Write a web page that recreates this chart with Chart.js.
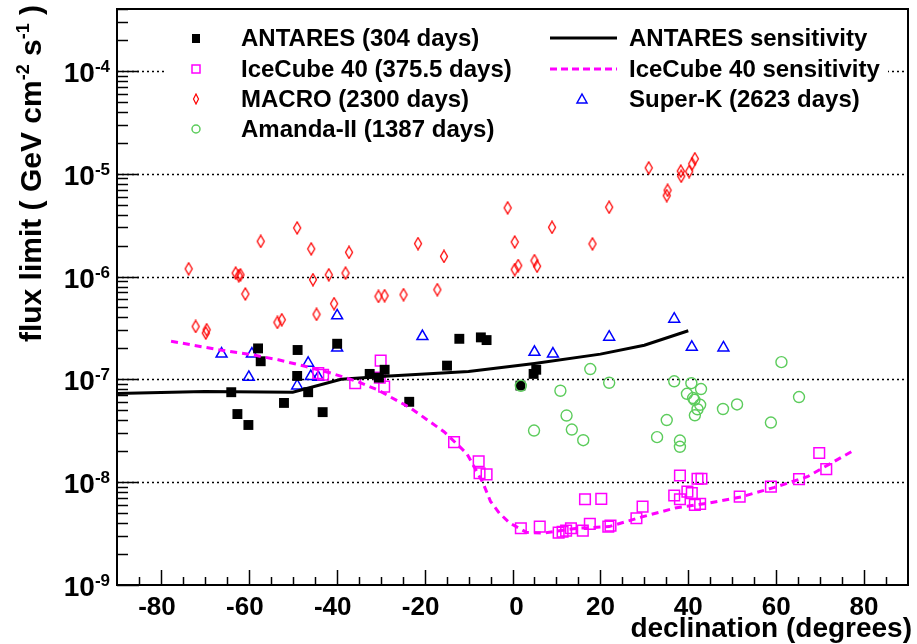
<!DOCTYPE html>
<html>
<head>
<meta charset="utf-8">
<script src="https://cdn.jsdelivr.net/npm/chart.js@4/dist/chart.umd.min.js"></script>
<style>
  html, body { margin: 0; padding: 0; background: #fff; }
</style>
</head>
<body>
<canvas id="c" width="917" height="644"></canvas>
<script>
// ANTARES (304 days) - candidate source limits
const antaresDec = [-64.0, -62.6, -60.1, -57.9, -57.3, -52.0, -48.9, -49.0, -46.5, -43.2, -39.9,
                    -32.5, -30.4, -29.1, -23.5, -14.9, -12.1, -7.2, -5.9, 1.8, 4.8, 5.4];
const antaresFlux = [7.5e-8, 4.6e-8, 3.6e-8, 2.0e-7, 1.5e-7, 5.9e-8, 1.93e-7, 1.08e-7, 7.5e-8, 4.8e-8, 2.22e-7,
                     1.13e-7, 1.04e-7, 1.24e-7, 6.05e-8, 1.36e-7, 2.48e-7, 2.56e-7, 2.41e-7, 8.7e-8, 1.13e-7, 1.24e-7];

// ANTARES sensitivity curve
const antSensDec = [-90, -70, -50, -39, -29, -10, 5, 20, 30, 40];
const antSensFlux = [7.3e-8, 7.6e-8, 7.5e-8, 1.0e-7, 1.07e-7, 1.19e-7, 1.43e-7, 1.76e-7, 2.15e-7, 2.97e-7];

// IceCube 40 (375.5 days)
const icDec = [-44.2, -43.1, -35.8, -30.0, -30.2, -29.2, -13.3, -7.7, -7.5, -5.9, 1.9, 6.2, 10.5, 11.4, 12.2,
               13.3, 16.0, 17.6, 21.8, 22.3, 16.5, 20.2, 28.2, 29.6, 36.8, 38.1, 38.1, 39.8, 40.8, 41.5,
               42.7, 42.1, 43.0, 51.7, 58.8, 65.2, 69.8, 71.4];
const icFlux = [1.15e-7, 1.11e-7, 9.2e-8, 1.52e-7, 1.04e-7, 8.5e-8, 2.45e-8, 1.6e-8, 1.22e-8, 1.19e-8, 3.56e-9,
                3.7e-9, 3.23e-9, 3.3e-9, 3.38e-9, 3.56e-9, 3.38e-9, 3.93e-9, 3.7e-9, 3.78e-9, 6.83e-9, 6.88e-9,
                4.46e-9, 5.78e-9, 7.41e-9, 1.16e-8, 6.83e-9, 8.1e-9, 7.82e-9, 6.01e-9, 6.15e-9, 1.08e-8,
                1.08e-8, 7.24e-9, 9.06e-9, 1.07e-8, 1.92e-8, 1.34e-8];

// IceCube 40 sensitivity curve
const icSensDec = [-77.7, -66.8, -59.4, -53.3, -47.2, -41.3, -35.2, -30.7, -23.3, -15.6, -10.4, -6.8, -5.0,
                   -3.0, -0.6, 3.2, 6.9, 14.4, 22.0, 29.5, 37.0, 44.5, 52.1, 59.6, 67.1, 77.3];
const icSensFlux = [2.35e-7, 1.94e-7, 1.74e-7, 1.55e-7, 1.34e-7, 1.15e-7, 9.5e-8, 7.9e-8, 5.3e-8, 3.1e-8,
                    1.9e-8, 1.0e-8, 6.5e-9, 5.0e-9, 4.0e-9, 3.25e-9, 3.2e-9, 3.55e-9, 3.7e-9, 4.6e-9, 5.6e-9,
                    6.25e-9, 7.2e-9, 8.9e-9, 1.13e-8, 2.0e-8];

// MACRO (2300 days)
const macroDec = [-73.7, -72.1, -69.6, -69.8, -63.0, -62.3, -61.9, -60.8, -57.3, -53.5, -52.5, -49.0, -45.8,
                  -45.4, -44.6, -41.8, -40.6, -38.0, -37.2, -30.5, -29.1, -24.8, -21.5, -17.1, -15.6, -1.1,
                  0.5, 0.5, 1.3, 5.0, 5.6, 9.0, 18.2, 22.0, 31.0, 35.3, 35.1, 38.3, 38.4, 40.2, 40.9, 41.5];
const macroFlux = [1.19e-6, 3.27e-7, 3.04e-7, 2.82e-7, 1.08e-6, 1.02e-6, 1.04e-6, 6.77e-7, 2.2e-6, 3.58e-7,
                   3.8e-7, 2.97e-6, 1.86e-6, 9.33e-7, 4.29e-7, 1.04e-6, 5.45e-7, 1.08e-6, 1.72e-6, 6.41e-7,
                   6.52e-7, 6.67e-7, 2.09e-6, 7.45e-7, 1.57e-6, 4.66e-6, 2.17e-6, 1.17e-6, 1.28e-6, 1.43e-6,
                   1.26e-6, 3.01e-6, 2.08e-6, 4.72e-6, 1.14e-5, 6.9e-6, 6.13e-6, 1.06e-5, 9.46e-6, 1.05e-5,
                   1.25e-5, 1.4e-5];

// Super-K (2623 days)
const skDec = [-66.2, -59.3, -60.0, -49.0, -46.5, -45.9, -44.2, -39.9, -39.9, -20.5, 5.0, 9.2, 22.0, 36.8, 40.8, 48.0];
const skFlux = [1.77e-7, 1.77e-7, 1.05e-7, 8.67e-8, 1.44e-7, 1.07e-7, 1.05e-7, 4.16e-7, 2.02e-7, 2.62e-7,
                1.84e-7, 1.77e-7, 2.58e-7, 3.86e-7, 2.06e-7, 2.03e-7];

// Amanda-II (1387 days)
const amDec = [1.9, 10.9, 17.7, 22.0, 12.3, 4.9, 13.5, 16.1, 36.8, 40.7, 42.9, 39.7, 41.1, 41.4, 42.7, 42.1,
               41.5, 35.1, 32.9, 38.1, 38.1, 47.9, 51.1, 58.8, 65.2, 61.2];
const amFlux = [8.66e-8, 7.75e-8, 1.26e-7, 9.27e-8, 4.45e-8, 3.18e-8, 3.25e-8, 2.56e-8, 9.58e-8, 9.17e-8,
                8.05e-8, 7.24e-8, 6.58e-8, 6.33e-8, 5.66e-8, 5.12e-8, 4.47e-8, 4.02e-8, 2.74e-8, 2.54e-8,
                2.21e-8, 5.15e-8, 5.7e-8, 3.8e-8, 6.73e-8, 1.47e-7];

// axis ticks
const xTickValues = [-80, -60, -40, -20, 0, 20, 40, 60, 80];
const yTickValues = [1e-9, 1e-8, 1e-7, 1e-6, 1e-5, 1e-4];
const yTickExp = ['-9', '-8', '-7', '-6', '-5', '-4'];

const FONT = '"Liberation Sans", Arial, Helvetica, sans-serif';
const MAGENTA = '#ff00ff';
const GREEN = '#5ccc5c';

function pts(xs, ys) {
    return xs.map((x, i) => ({ x: x, y: ys[i] }));
}

// thin ROOT-like diamond marker
function diamondMarker(w, h, lw) {
    const c = document.createElement('canvas');
    c.width = w; c.height = h;
    const g = c.getContext('2d');
    g.strokeStyle = '#ff0000';
    g.lineWidth = lw;
    g.beginPath();
    g.moveTo(w / 2, 1);
    g.lineTo(w - 1.5, h / 2);
    g.lineTo(w / 2, h - 1);
    g.lineTo(1.5, h / 2);
    g.closePath();
    g.stroke();
    return c;
}

// Axes, grid, labels and legend, drawn ROOT style
const rootFrame = {
    id: 'rootFrame',
    beforeDatasetsDraw(chart) {
        const { ctx, chartArea: a, scales: { y } } = chart;
        ctx.save();
        ctx.strokeStyle = '#000';
        ctx.lineWidth = 1.5;
        ctx.setLineDash([2, 3]);
        yTickValues.forEach(v => {
            const py = Math.round(y.getPixelForValue(v)) + 0.5;
            if (py > a.bottom - 2) return;
            ctx.beginPath();
            ctx.moveTo(a.left, py);
            ctx.lineTo(a.right, py);
            ctx.stroke();
        });
        ctx.restore();
    },
    afterDraw(chart) {
        const { ctx, chartArea: a, scales: { x, y } } = chart;
        ctx.save();
        ctx.strokeStyle = '#000';
        ctx.fillStyle = '#000';
        ctx.lineWidth = 1.5;

        // y ticks (inside)
        for (let e = -9; e <= -4; e++) {
            for (let m = 1; m <= 9; m++) {
                const v = m * Math.pow(10, e);
                if (v > y.max) break;
                const py = Math.round(y.getPixelForValue(v)) + 0.5;
                const len = m === 1 ? 22 : 11;
                ctx.beginPath();
                ctx.moveTo(a.left, py);
                ctx.lineTo(a.left + len, py);
                ctx.stroke();
            }
        }
        // x ticks (inside)
        for (let d = -85; d <= 85; d += 5) {
            const px = Math.round(x.getPixelForValue(d)) + 0.5;
            const len = d % 20 === 0 ? 15 : 8;
            ctx.beginPath();
            ctx.moveTo(px, a.bottom);
            ctx.lineTo(px, a.bottom - len);
            ctx.stroke();
        }

        // frame
        ctx.lineWidth = 2;
        ctx.strokeRect(a.left, a.top, a.right - a.left, a.bottom - a.top);

        // y labels 10^n
        ctx.textBaseline = 'alphabetic';
        yTickValues.forEach((v, i) => {
            const py = y.getPixelForValue(v);
            ctx.textAlign = 'right';
            ctx.font = 'bold 17px ' + FONT;
            const ew = ctx.measureText(yTickExp[i]).width;
            ctx.fillText(yTickExp[i], 110, py + 1);
            ctx.font = 'bold 28px ' + FONT;
            ctx.fillText('10', 110 - ew, py + 11);
        });

        // x labels
        ctx.font = 'bold 26px ' + FONT;
        ctx.textAlign = 'center';
        xTickValues.forEach(v => {
            ctx.fillText(String(v), x.getPixelForValue(v) - (v < 0 ? 4 : 0) + (v === 0 ? 4 : 0), 615);
        });

        // x title
        ctx.font = 'bold 28px ' + FONT;
        ctx.textAlign = 'right';
        ctx.fillText('declination (degrees)', 912, 637);

        // y title, rotated, with superscripts
        ctx.save();
        ctx.translate(41, 0);
        ctx.rotate(-Math.PI / 2);
        const parts = [['flux limit ( GeV cm', 30, 0], ['-2', 18, -12], [' s', 30, 0], ['-1', 18, -12], [' )', 30, 0]];
        let total = 0;
        parts.forEach(p => { ctx.font = 'bold ' + p[1] + 'px ' + FONT; total += ctx.measureText(p[0]).width; });
        let cx = -5 - total;
        ctx.textAlign = 'left';
        parts.forEach(p => {
            ctx.font = 'bold ' + p[1] + 'px ' + FONT;
            ctx.fillText(p[0], cx, p[2]);
            cx += ctx.measureText(p[0]).width;
        });
        ctx.restore();

        // legend box (white fill, no border)
        ctx.fillStyle = '#fff';
        ctx.fillRect(166, 19, 722, 127);
        ctx.fillStyle = '#000';

        const ds = chart.data.datasets;
        const rows = [38, 69, 99, 129];
        ctx.font = 'bold 24px ' + FONT;
        ctx.textAlign = 'left';
        ctx.textBaseline = 'middle';
        const col1 = [0, 2, 4, 6];
        col1.forEach((k, r) => ctx.fillText(ds[k].label, 241, rows[r] + 1));
        ctx.fillText(ds[1].label, 629, rows[0] + 1);
        ctx.fillText(ds[3].label, 629, rows[1] + 1);
        ctx.fillText(ds[5].label, 629, rows[2] + 1);

        // legend markers
        ctx.fillRect(192, rows[0] - 4, 8, 9);
        ctx.strokeStyle = MAGENTA;
        ctx.lineWidth = 1.5;
        ctx.strokeRect(192, rows[1] - 4, 8, 8);
        ctx.drawImage(diamondMarker(8, 12, 1.2), 192, rows[2] - 6);
        ctx.strokeStyle = GREEN;
        ctx.beginPath();
        ctx.arc(196, rows[3], 4, 0, Math.PI * 2);
        ctx.stroke();
        ctx.strokeStyle = '#0000ff';
        ctx.beginPath();
        ctx.moveTo(582, rows[2] - 5);
        ctx.lineTo(587, rows[2] + 4);
        ctx.lineTo(577, rows[2] + 4);
        ctx.closePath();
        ctx.stroke();
        ctx.strokeStyle = '#000';
        ctx.lineWidth = 3;
        ctx.beginPath();
        ctx.moveTo(550, rows[0]);
        ctx.lineTo(617, rows[0]);
        ctx.stroke();
        ctx.strokeStyle = MAGENTA;
        ctx.setLineDash([7, 4]);
        ctx.beginPath();
        ctx.moveTo(550, rows[1]);
        ctx.lineTo(617, rows[1]);
        ctx.stroke();
        ctx.restore();
    }
};

const chart = new Chart(document.getElementById('c').getContext('2d'), {
    type: 'scatter',
    data: {
        datasets: [{
            label: 'ANTARES (304 days)',
            data: pts(antaresDec, antaresFlux),
            pointStyle: 'rect',
            pointRadius: 7,
            backgroundColor: '#000',
            borderWidth: 0,
            order: 4
        }, {
            label: 'ANTARES sensitivity',
            data: pts(antSensDec, antSensFlux),
            showLine: true,
            pointRadius: 0,
            borderColor: '#000',
            borderWidth: 3,
            tension: 0,
            order: 3
        }, {
            label: 'IceCube 40 (375.5 days)',
            data: pts(icDec, icFlux),
            pointStyle: 'rect',
            pointRadius: 7.5,
            backgroundColor: 'rgba(0,0,0,0)',
            borderColor: MAGENTA,
            borderWidth: 1.5,
            order: 5
        }, {
            label: 'IceCube 40 sensitivity',
            data: pts(icSensDec, icSensFlux),
            showLine: true,
            pointRadius: 0,
            borderColor: MAGENTA,
            borderWidth: 3,
            borderDash: [7, 5],
            tension: 0,
            order: 2
        }, {
            label: 'MACRO (2300 days)',
            data: pts(macroDec, macroFlux),
            pointStyle: diamondMarker(10, 14, 1.3),
            order: 7
        }, {
            label: 'Super-K (2623 days)',
            data: pts(skDec, skFlux),
            pointStyle: 'triangle',
            pointRadius: 6.3,
            backgroundColor: 'rgba(0,0,0,0)',
            borderColor: '#0000ff',
            borderWidth: 1.5,
            order: 6
        }, {
            label: 'Amanda-II (1387 days)',
            data: pts(amDec, amFlux),
            pointStyle: 'circle',
            pointRadius: 5.5,
            backgroundColor: 'rgba(0,0,0,0)',
            borderColor: GREEN,
            borderWidth: 1.4,
            order: 1
        }]
    },
    options: {
        responsive: false,
        animation: false,
        layout: { padding: { left: 117, right: 3, top: 9, bottom: 59 } },
        plugins: {
            legend: { display: false },
            tooltip: { enabled: false }
        },
        scales: {
            x: { type: 'linear', min: -90, max: 90, display: false },
            y: { type: 'logarithmic', min: 1e-9, max: 4e-4, display: false }
        }
    },
    plugins: [rootFrame]
});
</script>
</body>
</html>
